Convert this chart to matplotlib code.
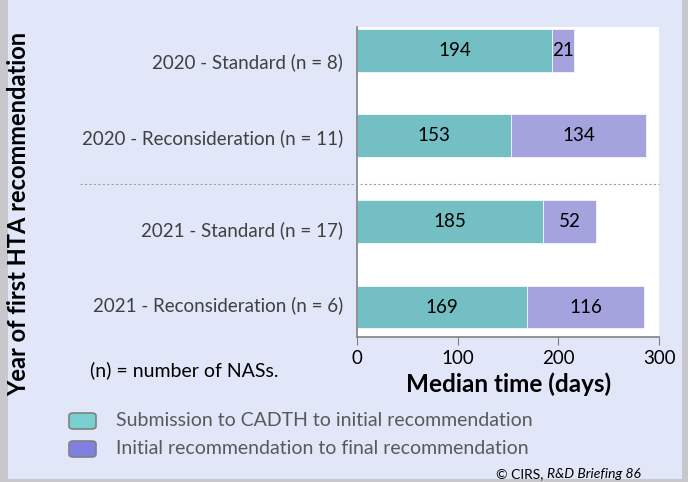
import matplotlib.pyplot as plt
from matplotlib.patches import FancyBboxPatch, Rectangle
from matplotlib.lines import Line2D

plt.rcParams['font.family'] = ['Lato', 'DejaVu Sans']

categories = ['2020 - Standard (n = 8)', '2020 - Reconsideration (n = 11)',
              '2021 - Standard (n = 17)', '2021 - Reconsideration (n = 6)']
submission = [194, 153, 185, 169]
initial_final = [21, 134, 52, 116]
series_names = ['Submission to CADTH to initial recommendation',
                'Initial recommendation to final recommendation']
xticks = [0, 100, 200, 300]

bg = '#E1E6F9'
teal = '#73BFC4'
purple = '#A5A3DD'

fig = plt.figure(figsize=(6.88, 4.82), dpi=100, facecolor=bg)

# slide frame
fig.patches.append(Rectangle((0, 0), 0.012, 1, transform=fig.transFigure,
                             facecolor='#C8C8CC', edgecolor='none'))
fig.patches.append(Rectangle((0.992, 0), 0.008, 1, transform=fig.transFigure,
                             facecolor='#C8C8CC', edgecolor='none'))
fig.patches.append(Rectangle((0, 0), 1, 0.006, transform=fig.transFigure,
                             facecolor='#C8C8CC', edgecolor='none'))

ax = fig.add_axes([0.519, 0.3008, 0.439, 0.643])
ax.set_facecolor('white')
y = list(range(len(categories)))
ax.barh(y, submission, height=0.5, color=teal, edgecolor='white', linewidth=0.5)
ax.barh(y, initial_final, left=submission, height=0.5, color=purple,
        edgecolor='white', linewidth=0.5)

for i in y:
    ax.text(submission[i] / 2, i, str(submission[i]), ha='center', va='center',
            fontsize=13.5, color='black')
    ax.text(submission[i] + initial_final[i] / 2, i, str(initial_final[i]),
            ha='center', va='center', fontsize=13.5, color='black')

ax.set_xlim(0, 300)
ax.set_ylim(3.35, -0.27)
ax.set_yticks(y)
ax.set_yticklabels([])
# category labels; on the slide they sit slightly off the bar centres
shifts = [12, 2, 9, -2]
for i, (cat, s) in enumerate(zip(categories, shifts)):
    ax.annotate(cat, xy=(0, i), xycoords=('axes fraction', 'data'),
                xytext=(-14, -s), textcoords='offset pixels', ha='right',
                va='center', fontsize=13.5, color='#404040')
ax.set_xticks(xticks)
ax.set_xticklabels([str(t) for t in xticks], fontsize=13.5, color='black')
ax.tick_params(axis='y', length=0)
ax.tick_params(axis='x', direction='out', length=6, color='#808080', pad=3)
for s in ['top', 'right']:
    ax.spines[s].set_visible(False)
for s in ['left', 'bottom']:
    ax.spines[s].set_color('#808080')
    ax.spines[s].set_linewidth(1.2)

# separator between 2020 and 2021
fig.add_artist(Line2D([80 / 688, 659 / 688], [1 - 184 / 482, 1 - 184 / 482],
                      transform=fig.transFigure, color='#A0A0A0',
                      linestyle=(0, (2, 2)), linewidth=0.8))

ax.set_xlabel('Median time (days)', fontsize=17.5, fontweight='bold', labelpad=4)
fig.text(19 / 688, 1 - 214 / 482, 'Year of first HTA recommendation',
         rotation=90, ha='center', va='center', fontsize=17, fontweight='bold')
fig.text(90 / 688, 1 - 370 / 482, '(n) = number of NASs.', ha='left',
         va='center', fontsize=14, color='black')

# legend
leg_colors = ['#7ACFD0', '#8080E0']
for k, (name, c) in enumerate(zip(series_names, leg_colors)):
    yc = 1 - (421 + 28 * k) / 482
    fig.patches.append(FancyBboxPatch((69 / 688, yc - 8 / 482), 27 / 688, 16 / 482,
                                      boxstyle='round,pad=0,rounding_size=0.006',
                                      transform=fig.transFigure, facecolor=c,
                                      edgecolor='#808080', linewidth=1.2))
    fig.text(116 / 688, yc, name, ha='left', va='center', fontsize=14,
             color='#595959')

# source note: italic part right-aligned, plain part placed before it
ital = fig.text(641 / 688, 1 - 474 / 482, 'R&D Briefing 86', ha='right',
                va='center', fontsize=10, style='italic', color='black')
renderer = fig.canvas.get_renderer()
bb = ital.get_window_extent(renderer=renderer)
fig.text(bb.x0 / fig.bbox.width, 1 - 474 / 482, '© CIRS, ', ha='right',
         va='center', fontsize=10, color='black')

fig.savefig('out.png', dpi=100, facecolor=bg)
